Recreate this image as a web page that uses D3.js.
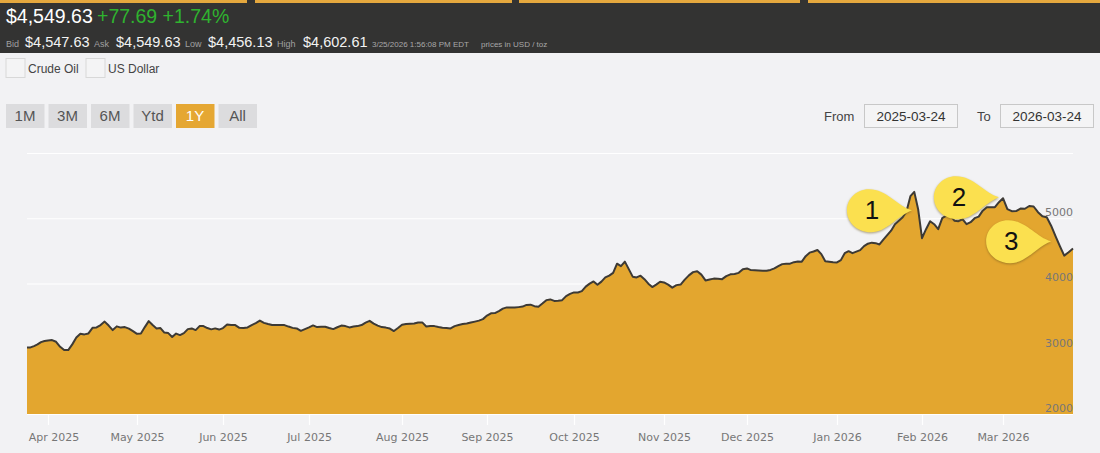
<!DOCTYPE html>
<html>
<head>
<meta charset="utf-8">
<script src="https://cdnjs.cloudflare.com/ajax/libs/d3/7.8.5/d3.min.js"></script>
<style>
    html, body { margin: 0; padding: 0; background: #f2f2f4; overflow: hidden; }
    svg { display: block; font-family: "Liberation Sans", Arial, sans-serif; }
    .axisText text { font-family: "DejaVu Sans", sans-serif; font-size: 11px; fill: #777; }
    .callout path { filter: drop-shadow(0px 1.5px 1px rgba(110, 90, 30, 0.55)); }
</style>
</head>
<body>
<div id="canvas"></div>
<script>
"use strict"

/* one closing price per weekday, month by month */
const mar2025 = [3021, 3021, 3041, 3067, 3102, 3118];
const apr2025 = [3128, 3133, 3107, 3030, 2980, 2980, 3067, 3171, 3229, 3220, 3235, 3321, 3327, 3363, 3416, 3355, 3286, 3343, 3324, 3332, 3309, 3271];
const may2025 = [3229, 3235, 3332, 3424, 3363, 3312, 3317, 3248, 3240, 3179, 3232, 3209, 3240, 3301, 3312, 3286, 3347, 3347, 3317, 3297, 3312, 3294];
const jun2025 = [3317, 3370, 3363, 3363, 3320, 3317, 3327, 3363, 3393, 3431, 3396, 3378, 3363, 3363, 3363, 3363, 3340, 3320, 3312, 3275, 3301];
const jul2025 = [3327, 3358, 3332, 3337, 3337, 3317, 3301, 3329, 3355, 3347, 3327, 3340, 3347, 3363, 3401, 3428, 3386, 3355, 3332, 3324, 3309, 3271, 3317];
const aug2025 = [3367, 3378, 3382, 3386, 3401, 3404, 3340, 3347, 3347, 3332, 3321, 3317, 3312, 3347, 3363, 3378, 3386, 3401, 3416, 3431, 3454];
const sep2025 = [3508, 3543, 3546, 3577, 3615, 3634, 3631, 3631, 3638, 3646, 3672, 3676, 3653, 3643, 3692, 3745, 3756, 3733, 3736, 3745, 3807, 3840];
const oct2025 = [3863, 3863, 3883, 3952, 3998, 4032, 3980, 4029, 4093, 4120, 4162, 4304, 4266, 4335, 4220, 4105, 4093, 4120, 4067, 3998, 3945, 3983, 4026];
const nov2025 = [4016, 3983, 3937, 3975, 3984, 4059, 4124, 4174, 4189, 4136, 4047, 4062, 4075, 4071, 4067, 4113, 4140, 4146, 4163, 4220];
const dec2025 = [4231, 4205, 4202, 4199, 4197, 4194, 4208, 4231, 4266, 4297, 4304, 4304, 4327, 4338, 4335, 4419, 4473, 4491, 4514, 4450, 4342, 4335, 4327];
const jan2026 = [4323, 4358, 4465, 4496, 4465, 4488, 4511, 4572, 4610, 4626, 4618, 4598, 4672, 4741, 4809, 4909, 4962, 5016, 5108, 5338, 5404, 5139];
const feb2026 = [4695, 4832, 4955, 4909, 4832, 5001, 5039, 5047, 4962, 4955, 4985, 4909, 4940, 5001, 5024, 5116, 5169, 5169, 5169, 5246];
const mar2026 = [5307, 5139, 5108, 5111, 5149, 5146, 5188, 5180, 5093, 5031, 5016, 4886, 4725, 4572, 4427, 4480, 4537];

const monthArrays = [mar2025, apr2025, may2025, jun2025, jul2025, aug2025, sep2025, oct2025, nov2025, dec2025, jan2026, feb2026, mar2026];
const monthLabels = ["Apr 2025", "May 2025", "Jun 2025", "Jul 2025", "Aug 2025", "Sep 2025", "Oct 2025", "Nov 2025", "Dec 2025", "Jan 2026", "Feb 2026", "Mar 2026"];
const priceTicks = [2000, 3000, 4000, 5000, 6000];
const priceLabels = ["2000", "3000", "4000", "5000", ""];

const ranges = ["1M", "3M", "6M", "Ytd", "1Y", "All"];
const toggles = ["Crude Oil", "US Dollar"];
const calloutLabels = ["1", "2", "3"];
const calloutDays = [222.4, 244, 256];
const calloutPrices = [5123, 5322, 4649];

const prices = monthArrays.flat();

/* the axis is ordinal in trading days, each month start sits where the picture has it */
const monthStarts = Array.from(d3.cumsum(monthArrays, d => d.length)).slice(0, -1);

let drawing = d3.select("#canvas")
    .append("svg")
    .attr("width", 1100)
    .attr("height", 453);

let x = d3.scaleLinear()
    .domain([0, ...monthStarts, prices.length - 1])
    .range([27, 48, 137, 223, 309, 402, 487, 574, 664, 747, 837, 922, 1003, 1073]);

let y = d3.scaleLinear()
    .domain([2000, 6000])
    .range([414, 153]);

/* header bar */
drawing.append("rect")
    .attr("width", 1100)
    .attr("height", 53)
    .attr("fill", "#333332");

drawing.selectAll(".strip")
    .data([[0, 247], [255, 512], [519, 800], [808, 1100]])
    .join("rect")
    .attr("x", d => d[0])
    .attr("width", d => d[1] - d[0])
    .attr("height", 3)
    .attr("fill", "#e5a83e");

function headerText(txt, px, py, size, colour) {
    return drawing.append("text")
        .attr("x", px)
        .attr("y", py)
        .attr("font-size", size)
        .attr("fill", colour)
        .text(txt);
}

headerText("$4,549.63", 6, 23, 19.5, "#ffffff");
headerText("+77.69 +1.74%", 97, 23, 19.5, "#2fb32f");
headerText("Bid", 6, 47, 9, "#a0a0a0");
headerText("$4,547.63", 25, 47, 14.5, "#f2f2f2");
headerText("Ask", 94, 47, 9, "#a0a0a0");
headerText("$4,549.63", 116, 47, 14.5, "#f2f2f2");
headerText("Low", 185, 47, 9, "#a0a0a0");
headerText("$4,456.13", 208, 47, 14.5, "#f2f2f2");
headerText("High", 277, 47, 9, "#a0a0a0");
headerText("$4,602.61", 303, 47, 14.5, "#f2f2f2");
headerText("3/25/2026 1:56:08 PM EDT", 372, 47, 8, "#a8a8a8");
headerText("prices in USD / toz", 481, 47, 8, "#a8a8a8");

/* crude oil and dollar toggles */
let toggle = drawing.selectAll(".toggle")
    .data(toggles)
    .join("g")
    .attr("transform", (d, i) => "translate(" + (6 + i * 80) + ",58.5)");

toggle.append("rect")
    .attr("width", 19)
    .attr("height", 19)
    .attr("fill", "#f4f4f5")
    .attr("stroke", "#d8d8d8");

toggle.append("text")
    .attr("x", 22)
    .attr("y", 10)
    .attr("dy", "0.35em")
    .attr("font-size", 12)
    .attr("fill", "#444")
    .text(d => d);

/* range buttons */
let button = drawing.selectAll(".rangeButton")
    .data(ranges)
    .join("g")
    .attr("transform", (d, i) => "translate(" + (6 + i * 42.5) + ",104)");

button.append("rect")
    .attr("width", 38.5)
    .attr("height", 24)
    .attr("fill", d => d === "1Y" ? "#e5a733" : "#dcdcde");

button.append("text")
    .attr("x", 19)
    .attr("y", 12)
    .attr("dy", "0.35em")
    .attr("text-anchor", "middle")
    .attr("font-size", 15)
    .attr("fill", d => d === "1Y" ? "#ffffff" : "#555")
    .text(d => d);

/* from and to boxes */
headerText("From", 824, 120.5, 13, "#444");
headerText("To", 977, 120.5, 13, "#444");

let dateBox = drawing.selectAll(".dateBox")
    .data(["2025-03-24", "2026-03-24"])
    .join("g")
    .attr("transform", (d, i) => "translate(" + (864.5 + i * 136) + ",104.5)");

dateBox.append("rect")
    .attr("width", 93)
    .attr("height", 23)
    .attr("fill", "#f4f4f5")
    .attr("stroke", "#c8c8c8");

dateBox.append("text")
    .attr("x", 46.5)
    .attr("y", 11.5)
    .attr("dy", "0.35em")
    .attr("text-anchor", "middle")
    .attr("font-size", 13.5)
    .attr("fill", "#333")
    .text(d => d);

/* gridlines go under the area */
let grid = drawing.append("g")
    .attr("transform", "translate(1073,0)")
    .call(d3.axisLeft(y).tickValues(priceTicks).tickSize(1046).tickFormat(""));
grid.select(".domain").remove();
grid.selectAll("line").attr("stroke", "#ffffff").attr("stroke-width", 1.2);

let goldArea = d3.area()
    .x((d, i) => x(i))
    .y0(y(2000))
    .y1(d => y(d));

let goldLine = d3.line()
    .x((d, i) => x(i))
    .y(d => y(d));

drawing.append("path")
    .datum(prices)
    .attr("d", goldArea)
    .attr("fill", "#e3a62f");

drawing.append("path")
    .datum(prices)
    .attr("d", goldLine)
    .attr("fill", "none")
    .attr("stroke", "#3d3a35")
    .attr("stroke-width", 2)
    .attr("stroke-linejoin", "round");

/* month axis, the first label is pushed right so it stays inside the plot */
let xAxis = drawing.append("g")
    .attr("class", "axisText")
    .attr("transform", "translate(0,415)")
    .call(d3.axisBottom(x)
        .tickValues(monthStarts)
        .tickSize(10)
        .tickPadding(8)
        .tickFormat((d, i) => monthLabels[i]));
xAxis.select(".domain").remove();
xAxis.selectAll("line").attr("stroke", "#ffffff").attr("stroke-width", 1.2);
xAxis.selectAll("text")
    .attr("fill", null)
    .attr("dx", (d, i) => i === 0 ? 5.5 : 0);

/* price labels sit on top of the area, right aligned to the plot edge */
let yAxis = drawing.append("g")
    .attr("class", "axisText")
    .attr("transform", "translate(1073,0)")
    .call(d3.axisLeft(y)
        .tickValues(priceTicks)
        .tickSize(0)
        .tickPadding(0)
        .tickFormat((d, i) => priceLabels[i]));
yAxis.select(".domain").remove();
yAxis.selectAll("text")
    .attr("fill", null)
    .attr("dy", "-0.25em");

/* numbered callouts, each path has its tip at 0,0 */
let callout = drawing.selectAll(".callout")
    .data(calloutLabels)
    .join("g")
    .attr("class", "callout")
    .attr("transform", (d, i) => "translate(" + x(calloutDays[i]) + "," + y(calloutPrices[i]) + ")");

callout.append("path")
    .attr("d", "M0 0C-15 -4 -25 -21 -43 -21C-56 -21 -65 -11 -65 0C-65 12 -55 22 -41 22C-25 22 -15 6 0 0Z")
    .attr("fill", "#fbe04f");

callout.append("text")
    .attr("x", -40)
    .attr("y", 0)
    .attr("dy", "0.35em")
    .attr("text-anchor", "middle")
    .attr("font-size", 26)
    .attr("fill", "#111")
    .text(d => d);
</script>
</body>
</html>
